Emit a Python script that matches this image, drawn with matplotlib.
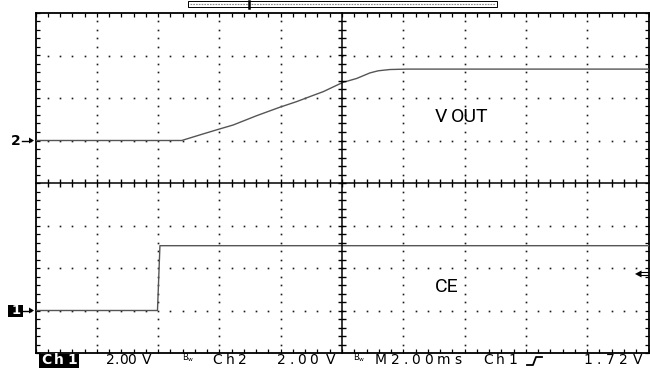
import matplotlib
matplotlib.use("Agg")
import matplotlib.pyplot as plt
import numpy as np
from matplotlib.patches import Rectangle, Polygon
from matplotlib.lines import Line2D
from matplotlib.font_manager import FontProperties

# ---- captured waveforms (time in ms, amplitude in V) ----
vout_t = [0, 4.77, 5.47, 6.00, 6.45, 7.22, 7.98, 8.52, 8.96, 9.39, 10.02,
          10.48, 10.91, 11.18, 11.56, 12.11, 20]
vout_v = [0, 0, 0.31, 0.54, 0.73, 1.17, 1.57, 1.83, 2.07, 2.30, 2.73,
          2.92, 3.18, 3.28, 3.34, 3.36, 3.36]
ce_t = [0, 3.98, 4.06, 20]
ce_v = [0, 0, 3.05, 3.05]

# scope settings
volts_per_div = [2.0, 2.0]        # Ch1, Ch2
ch_offset_div = [-3, 1]           # ground marker positions (divisions from centre)
time_per_div = 2.0                # ms
trigger_level = 1.72              # V on Ch1

trace_names = ["CE", "VOUT"]
status_tokens = [("Ch1", 41, 77, True), ("2.00", 106, 136, False),
                 ("V", 142, 152, False),
                 ("Ch2", 212, 247, False), ("2.00", 277, 318, False),
                 ("V", 326, 337, False),
                 ("M2.00ms", 375, 461, False), ("Ch1", 483, 517, False),
                 ("1.72", 583, 628, False), ("V", 633, 643, False)]

W, H = 650, 369
fig = plt.figure(figsize=(W / 100, H / 100), dpi=100)
fig.patch.set_facecolor("white")
renderer = fig.canvas.get_renderer()


def fx(px):
    return px / W


def fy(py):
    return 1 - py / H


L, R, T, B = 35.5, 648.5, 13.0, 353.0
DIV_PX = (B - T) / 8


def div_to_py(ydiv):
    return T + (4 - ydiv) * DIV_PX


pos = [fx(L), fy(B), (R - L) / W, (B - T) / H]
ax = fig.add_axes(pos)
ax.set_xlim(0, 10 * time_per_div)
ax.set_ylim(-4, 4)
ax.set_facecolor("white")

# border ticks
xt = np.arange(0, 10 * time_per_div + 1e-6, time_per_div / 5)
yt = np.arange(-4, 4 + 1e-6, 0.2)
ax.set_xticks(xt)
ax.set_yticks(yt)
ax.tick_params(direction="in", length=3.2, width=0.9, color="black",
               top=True, right=True, labelbottom=False, labelleft=False)
for s in ax.spines.values():
    s.set_linewidth(1.3)
    s.set_color("black")

# dotted graticule
dx, dy = [], []
for j in [-3, -2, -1, 1, 2, 3]:
    for x in xt[1:-1]:
        dx.append(x)
        dy.append(j)
for i in [1, 2, 3, 4, 6, 7, 8, 9]:
    for y in yt[1:-1]:
        if abs(round(y) - y) > 1e-6:
            dx.append(i * time_per_div)
            dy.append(y)
ax.plot(dx, dy, linestyle="none", marker="s", markersize=1.2,
        markeredgewidth=0, color="#1a1a1a", zorder=2)

# centre cross with ticks on both sides
ax2 = fig.add_axes(pos)
ax2.set_xlim(ax.get_xlim())
ax2.set_ylim(ax.get_ylim())
ax2.patch.set_visible(False)
ax2.spines["top"].set_visible(False)
ax2.spines["right"].set_visible(False)
ax2.spines["left"].set_position(("data", 5 * time_per_div))
ax2.spines["bottom"].set_position(("data", 0))
for s in ("left", "bottom"):
    ax2.spines[s].set_linewidth(1.1)
ax2.set_xticks(xt[1:-1])
ax2.set_yticks(yt[1:-1])
ax2.tick_params(direction="inout", length=5.8, width=1.0, color="black",
                labelbottom=False, labelleft=False)

# traces
trace_col = "#555555"
ax.plot(ce_t, ch_offset_div[0] + np.array(ce_v) / volts_per_div[0],
        color=trace_col, lw=1.0, zorder=4, clip_on=True)
ax.plot(vout_t, ch_offset_div[1] + np.array(vout_v) / volts_per_div[1],
        color=trace_col, lw=1.0, zorder=4, clip_on=True)

ax.text(13.03, 1.43, "V", fontsize=14, family="Roboto", ha="left",
        va="baseline", zorder=5)
ax.text(13.55, 1.43, "OUT", fontsize=14, family="Roboto", ha="left",
        va="baseline", zorder=5)
ax.text(13.03, -2.56, trace_names[0], fontsize=14, family="Roboto",
        ha="left", va="baseline", zorder=5)


def fig_line(xs, ys, **kw):
    fig.add_artist(Line2D([fx(x) for x in xs], [fy(y) for y in ys],
                          transform=fig.transFigure, **kw))


def fig_tri(pts, **kw):
    fig.add_artist(Polygon([(fx(x), fy(y)) for x, y in pts], closed=True,
                           transform=fig.transFigure, **kw))


# channel ground markers
y2 = div_to_py(ch_offset_div[1])
fig.text(fx(11), fy(y2 + 0.3), "2", fontsize=10, fontweight="bold",
         ha="left", va="center")
fig_line([22, 31], [y2, y2], color="black", lw=1.0)
fig_tri([(34, y2), (29, y2 - 3), (29, y2 + 3)], color="black", lw=0)

y1 = div_to_py(ch_offset_div[0])
fig.add_artist(Rectangle((fx(8), fy(y1 + 6)), (23 - 8) / W, 12 / H,
                         transform=fig.transFigure, color="black", lw=0))
fig.text(fx(12), fy(y1 + 0.3), "1", fontsize=9.5, fontweight="bold",
         color="white", ha="left", va="center")
fig_line([23, 31], [y1, y1], color="black", lw=1.0)
fig_tri([(34, y1), (29, y1 - 3), (29, y1 + 3)], color="black", lw=0)

# trigger level marker on the right edge
yt_px = div_to_py(ch_offset_div[0] + trigger_level / volts_per_div[0])
fig_tri([(635, yt_px), (641.5, yt_px - 3.5), (641.5, yt_px + 3.5)],
        color="black", lw=0)
fig_line([641, 648], [yt_px - 1.5, yt_px - 1.5], color="black", lw=0.8)
fig_line([641, 648], [yt_px + 1.5, yt_px + 1.5], color="black", lw=0.8)

# record-length bar at the top
fig.add_artist(Rectangle((fx(188), fy(7)), (497 - 188) / W, 6 / H,
                         transform=fig.transFigure, fill=False,
                         edgecolor="black", lw=0.7))
fig_line([190, 495], [4, 4], color="#888888", lw=0.8, linestyle=(0, (1.5, 1)))
fig_line([249, 249], [0.5, 8], color="black", lw=1.8)


# status bar: characters tracked out to fill each field
def spaced(text, x0, x1, yc, fontsize=10, weight="normal", **kw):
    fp = FontProperties(family="DejaVu Sans", size=fontsize, weight=weight)
    widths = [renderer.get_text_width_height_descent(ch, fp, ismath=False)[0]
              for ch in text]
    n = len(text)
    gap = (x1 - x0 - sum(widths)) / (n - 1) if n > 1 else 0
    x = x0
    for ch, w in zip(text, widths):
        fig.text(fx(x), fy(yc), ch, ha="left", va="center",
                 fontproperties=fp, **kw)
        x += w + gap


for txt, x0, x1, inv in status_tokens:
    if inv:
        fig.add_artist(Rectangle((fx(x0 - 2), fy(368)), (x1 - x0 + 4) / W,
                                 14 / H, transform=fig.transFigure,
                                 color="black", lw=0))
        spaced(txt, x0, x1, 360.5, weight="bold", color="white")
    else:
        spaced(txt, x0, x1, 360.5, color="black")

# bandwidth-limit indicator: a small "B" with a lowered "w"
for bx in (182.0, 353.0):
    fig.text(fx(bx), fy(357.5), r"$\mathregular{B_{w}}$", fontsize=6,
             ha="left", va="center")

# trigger slope symbol
fig_line([527, 533, 536, 542], [365, 365, 357, 357], color="black", lw=1.3)

fig.savefig("out.png", dpi=100, facecolor="white")
